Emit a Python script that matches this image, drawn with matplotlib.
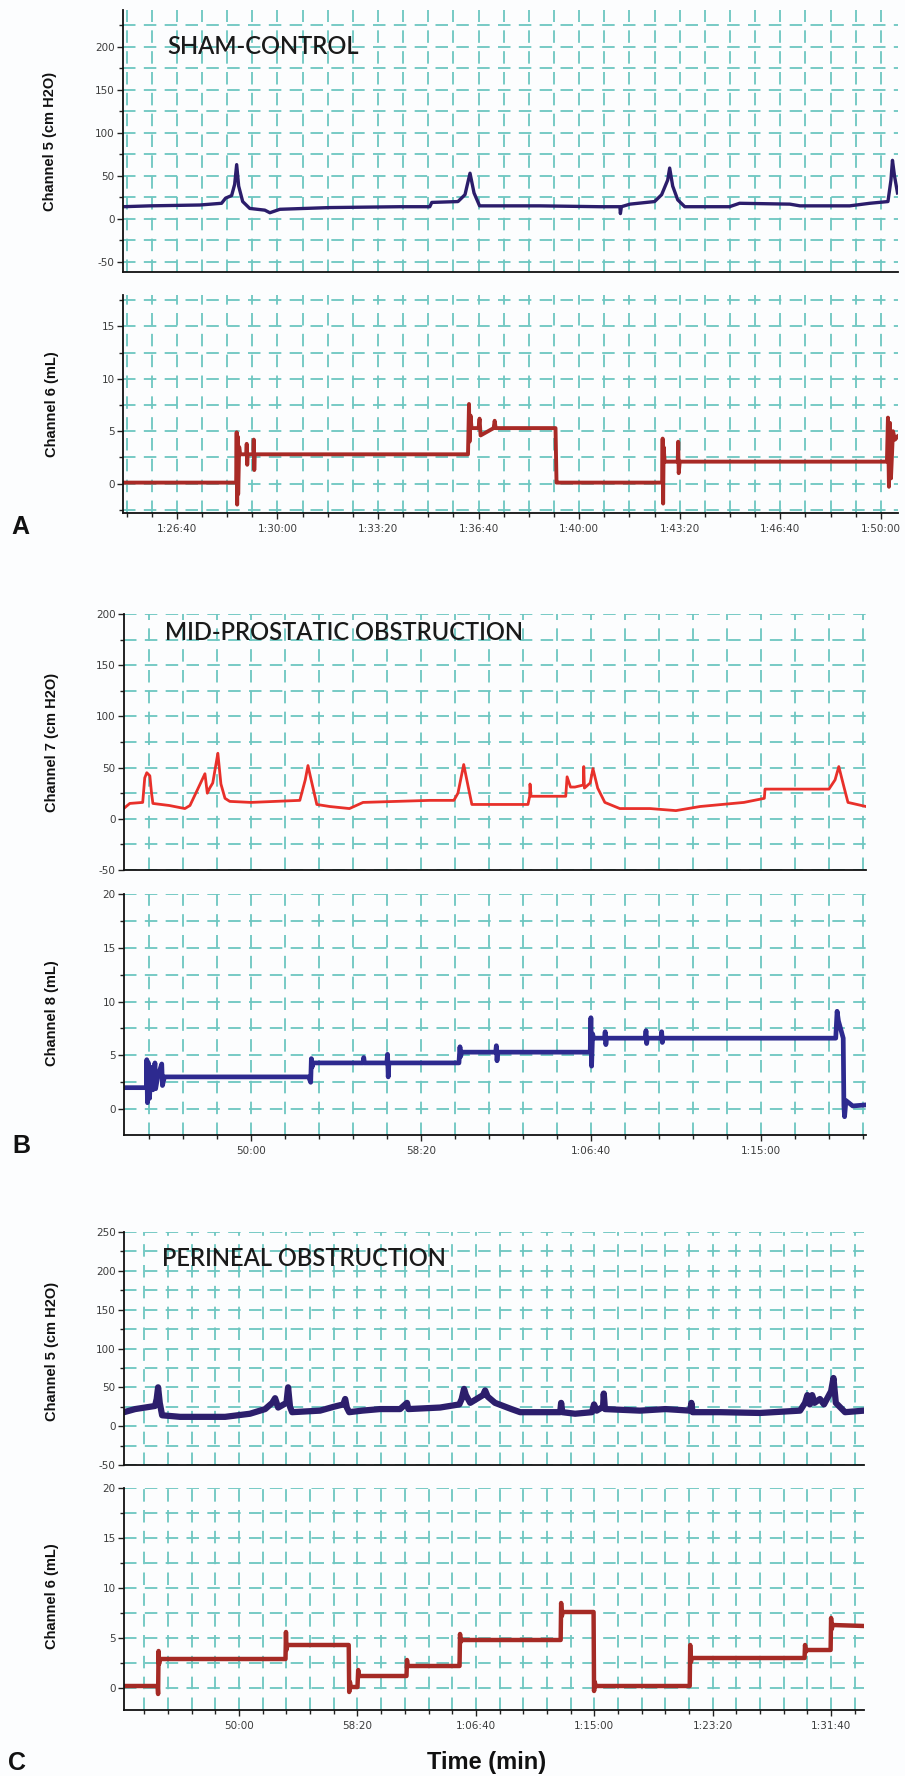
import matplotlib
matplotlib.use("Agg")
import matplotlib.pyplot as plt
from matplotlib.ticker import MultipleLocator, FixedLocator, NullFormatter

plt.rcParams['lines.scale_dashes'] = False

W, H = 905, 1776

# ---------------- DATA ----------------
# Panel A (SHAM-CONTROL)
A_top_t = [5093, 5146, 5246, 5289, 5297, 5309, 5315, 5319, 5323, 5331, 5345, 5375, 5385, 5405, 5504,
           5643, 5703, 5707, 5759, 5773, 5783, 5791, 5802, 5922, 6041, 6081, 6082, 6084, 6101, 6150,
           6164, 6176, 6180, 6186, 6196, 6210, 6299, 6319, 6419, 6439, 6538, 6578, 6614, 6620, 6623,
           6627, 6633]
A_top_v = [14, 15, 16, 18, 24, 27, 40, 63, 38, 20, 12, 10, 7, 11, 13,
           14, 14, 19, 20, 28, 53, 30, 15, 15, 14, 14, 6, 14, 17, 20,
           28, 45, 59, 38, 22, 14, 14, 18, 17, 15, 15, 18, 20, 45, 68,
           50, 30]
A_bot_t = [5093, 5318, 5319, 5320, 5321, 5322, 5324, 5326, 5338, 5339, 5340, 5341, 5352, 5353, 5354,
           5355, 5779, 5781, 5782, 5784, 5786, 5800, 5802, 5804, 5830, 5832, 5834, 5953, 5955, 5957,
           6165, 6166, 6167, 6168, 6170, 6196, 6197, 6198, 6200, 6612, 6614, 6616, 6618, 6620, 6624,
           6628, 6633]
A_bot_v = [0.1, 0.1, 4.9, -2.0, 4.5, -1.0, 3.5, 2.8, 2.8, 3.8, 1.8, 2.8, 2.8, 4.2, 1.3,
           2.8, 2.8, 7.6, 4.0, 6.5, 5.3, 5.3, 6.2, 4.6, 5.3, 6.0, 5.3, 5.3, 0.1, 0.1,
           0.1, 4.3, -1.9, 3.5, 2.1, 2.1, 4.0, 1.0, 2.1, 2.1, 6.3, -0.3, 5.8, 0.5, 5.0,
           4.2, 4.5]

# Panel B (MID-PROSTATIC OBSTRUCTION)
B_top_t = [2626, 2644, 2682, 2688, 2694, 2703, 2708, 2712, 2760, 2806, 2821, 2841, 2865, 2872, 2879,
           2888, 2903, 2912, 2924, 2938, 3000, 3144, 3160, 3168, 3176, 3194, 3232, 3290, 3330, 3526,
           3597, 3609, 3626, 3640, 3650, 3815, 3820, 3821, 3824, 3926, 3930, 3940, 3953, 3978, 3979,
           3981, 3998, 4006, 4020, 4041, 4085, 4174, 4250, 4321, 4450, 4510, 4512, 4700, 4718, 4729,
           4745, 4756, 4809]
B_top_v = [10, 15, 16, 40, 45, 42, 25, 15, 13, 10, 13, 27, 44, 25, 30,
           35, 64, 34, 20, 17, 16, 18, 38, 52, 40, 14, 12, 10, 16, 18,
           18, 25, 53, 30, 14, 14, 22, 34, 22, 22, 41, 31, 31, 33, 51,
           30, 35, 49, 30, 16, 10, 10, 8, 12, 16, 20, 29, 29, 38, 51,
           30, 16, 12]
B_bot_t = [2626, 2690, 2693, 2694, 2696, 2699, 2702, 2706, 2712, 2718, 2720, 2726, 2738, 2740, 2746,
           2760, 3170, 3176, 3178, 3180, 3183, 3330, 3332, 3334, 3400, 3402, 3404, 3406, 3612, 3615,
           3617, 3620, 3720, 3722, 3724, 3726, 3998, 4000, 4002, 4005, 4008, 4040, 4042, 4044, 4046,
           4160, 4162, 4164, 4166, 4206, 4208, 4210, 4212, 4720, 4724, 4728, 4742, 4744, 4746, 4750,
           4770, 4809]
B_bot_v = [2.0, 2.0, 2.0, 4.6, 0.6, 4.3, 1.0, 3.9, 1.8, 4.3, 1.9, 3.0, 4.2, 2.2, 3.0,
           3.0, 3.0, 2.5, 4.7, 3.9, 4.3, 4.3, 4.8, 4.3, 4.3, 5.1, 3.0, 4.3, 4.3, 5.8,
           4.9, 5.3, 5.3, 5.9, 4.5, 5.3, 5.3, 8.5, 4.0, 7.0, 6.6, 6.6, 7.2, 6.0, 6.6,
           6.6, 7.3, 6.1, 6.6, 6.6, 7.2, 6.2, 6.6, 6.6, 9.1, 8.2, 6.6, 0.3, -0.7, 0.8,
           0.3, 0.4]

# Panel C (PERINEAL OBSTRUCTION)
C_top_t = [2514, 2561, 2624, 2645, 2652, 2658, 2665, 2675, 2751, 2941, 3046, 3110, 3140, 3152, 3165,
           3200, 3207, 3215, 3224, 3342, 3400, 3440, 3448, 3455, 3465, 3520, 3595, 3680, 3709, 3715,
           3849, 3930, 3940, 3950, 3958, 3976, 4030, 4039, 4050, 4081, 4150, 4187, 4356, 4360, 4365,
           4419, 4490, 4499, 4510, 4537, 4540, 4545, 4693, 4800, 4905, 4910, 4915, 5031, 5200, 5369,
           5390, 5400, 5410, 5420, 5430, 5453, 5470, 5500, 5510, 5520, 5559, 5639]
C_top_v = [18, 22, 25, 26, 35, 50, 30, 14, 12, 12, 16, 22, 30, 36, 24,
           30, 50, 25, 18, 20, 25, 28, 35, 24, 18, 20, 22, 22, 30, 22,
           24, 28, 35, 48, 40, 30, 40, 46, 38, 30, 22, 18, 18, 30, 18,
           16, 18, 28, 20, 25, 42, 22, 20, 22, 20, 30, 18, 18, 17, 20,
           30, 40, 28, 40, 30, 35, 28, 45, 62, 30, 18, 20]
C_bot_t = [2514, 2656, 2658, 2660, 2662, 2666, 3196, 3198, 3200, 3204, 3463, 3465, 3468, 3472, 3500,
           3503, 3506, 3707, 3709, 3712, 3931, 3933, 3936, 3940, 4358, 4360, 4363, 4367, 4497, 4499,
           4502, 4506, 4903, 4905, 4908, 4912, 5388, 5390, 5393, 5397, 5498, 5500, 5503, 5507, 5639]
C_bot_v = [0.2, 0.2, -0.6, 3.7, 2.4, 2.9, 2.9, 5.6, 3.8, 4.3, 4.3, -0.4, 0.6, 0.1, 0.1,
           1.8, 1.2, 1.2, 2.8, 2.2, 2.2, 5.4, 4.6, 4.8, 4.8, 8.5, 7.2, 7.6, 7.6, -0.3,
           0.6, 0.2, 0.2, 4.3, 2.6, 3.0, 3.0, 4.3, 3.6, 3.8, 3.8, 7.0, 5.9, 6.3, 6.2]

A_xtick_labels = ["1:26:40", "1:30:00", "1:33:20", "1:36:40", "1:40:00", "1:43:20", "1:46:40", "1:50:00"]
B_xtick_labels = ["50:00", "58:20", "1:06:40", "1:15:00"]
C_xtick_labels = ["50:00", "58:20", "1:06:40", "1:15:00", "1:23:20", "1:31:40"]
P_ytick_labels = ["-50", "0", "50", "100", "150", "200"]
PC_ytick_labels = ["-50", "0", "50", "100", "150", "200", "250"]
V_ytick_labels = ["0", "5", "10", "15"]
V20_ytick_labels = ["0", "5", "10", "15", "20"]

titles = ["SHAM-CONTROL", "MID-PROSTATIC OBSTRUCTION", "PERINEAL OBSTRUCTION"]
ylabels = ["Channel 5 (cm H2O)", "Channel 6 (mL)", "Channel 7 (cm H2O)", "Channel 8 (mL)",
           "Channel 5 (cm H2O)", "Channel 6 (mL)"]
letters = ["A", "B", "C"]

# ---------------- STYLE ----------------
GRID = '#6dc6c0'
BG = '#fcfdfe'
TICKC = '#3c3c3c'


def to_sec(s):
    v = 0
    for p in s.split(':'):
        v = v * 60 + int(p)
    return v


def rect(l, t, r, b):
    return [l / W, 1 - b / H, (r - l) / W, (b - t) / H]


def fx(x):
    return x / W


def fy(y):
    return 1 - y / H


fig = plt.figure(figsize=(W / 100, H / 100), dpi=100, facecolor=BG)


def make_ax(r, xlim, ylim, xlabels, xminor, ylabels_, yminor, show_x):
    ax = fig.add_axes(rect(*r))
    ax.set_facecolor(BG)
    ax.set_xlim(*xlim)
    ax.set_ylim(*ylim)
    for s in ['top', 'right']:
        ax.spines[s].set_visible(False)
    for s in ['left', 'bottom']:
        ax.spines[s].set_linewidth(1.3)
        ax.spines[s].set_color('#111111')
    ax.xaxis.set_major_locator(FixedLocator([to_sec(s) for s in xlabels]))
    ax.xaxis.set_minor_locator(MultipleLocator(xminor))
    yv = [float(s) for s in ylabels_]
    ax.yaxis.set_major_locator(FixedLocator(yv))
    ax.yaxis.set_minor_locator(MultipleLocator(yminor))
    ax.set_yticklabels(ylabels_)
    if show_x:
        ax.set_xticklabels(xlabels)
        ax.tick_params(axis='x', which='major', length=4, width=1.0, color='#222222',
                       labelsize=7.5, labelcolor=TICKC, pad=4)
        ax.tick_params(axis='x', which='minor', length=3, width=1.0, color='#222222')
    else:
        ax.xaxis.set_major_formatter(NullFormatter())
        ax.tick_params(axis='x', which='both', length=0)
    ax.tick_params(axis='y', which='major', length=4, width=1.0, color='#222222',
                   labelsize=7.5, labelcolor=TICKC, pad=2)
    ax.tick_params(axis='y', which='minor', length=3, width=1.0, color='#222222')
    ax.grid(which='both', color=GRID, linestyle=(0, (9, 6)), linewidth=1.3)
    ax.set_axisbelow(True)
    return ax


# Panel A
axA1 = make_ax((123, 10, 898, 272), (5093, 6634), (-62, 243), A_xtick_labels, 50,
               P_ytick_labels, 25, False)
axA1.plot(A_top_t, A_top_v, color='#2b1d6b', lw=2.4)
axA2 = make_ax((123, 295, 898, 513), (5093, 6634), (-2.8, 18), A_xtick_labels, 50,
               V_ytick_labels, 2.5, True)
axA2.plot(A_bot_t, A_bot_v, color='#a82a26', lw=2.8)

# Panel B
axB1 = make_ax((124, 614, 866, 870), (2627, 4809), (-50, 200), B_xtick_labels, 100,
               P_ytick_labels, 25, False)
axB1.plot(B_top_t, B_top_v, color='#e8302a', lw=2.0)
axB2 = make_ax((124, 894, 866, 1135), (2627, 4809), (-2.4, 20), B_xtick_labels, 100,
               V20_ytick_labels, 2.5, True)
axB2.plot(B_bot_t, B_bot_v, color='#2d2a8f', lw=3.4)

# Panel C
axC1 = make_ax((124, 1232, 864, 1465), (2514, 5639), (-50, 250), C_xtick_labels, 100,
               PC_ytick_labels, 25, False)
axC1.plot(C_top_t, C_top_v, color='#2c1e6c', lw=4.5)
axC2 = make_ax((124, 1488, 864, 1710), (2514, 5639), (-2.2, 20), C_xtick_labels, 100,
               V20_ytick_labels, 2.5, True)
axC2.plot(C_bot_t, C_bot_v, color='#a52a25', lw=3.2)

# Titles
title_pos = [(167, 47), (165, 633), (162, 1258)]
for txt, (x, y) in zip(titles, title_pos):
    fig.text(fx(x), fy(y), txt, family='Lato', fontweight='semibold', fontsize=17,
             color='#1a1a1a', ha='left', va='center')

# Y labels
ylab_pos = [(50, 141), (52, 404), (52, 742), (52, 1013), (52, 1351), (52, 1596)]
for txt, (x, y) in zip(ylabels, ylab_pos):
    fig.text(fx(x), fy(y), txt, family='Liberation Sans', fontweight='bold', fontsize=10.5,
             rotation=90, ha='center', va='center', color='#111111')

# Panel letters
let_pos = [(20, 527), (21, 1146), (17, 1763)]
for txt, (x, y) in zip(letters, let_pos):
    fig.text(fx(x), fy(y), txt, family='Liberation Sans', fontweight='bold', fontsize=18,
             ha='center', va='center', color='#111111')

fig.text(fx(487), fy(1762), "Time (min)", family='Liberation Sans', fontweight='bold',
         fontsize=17, ha='center', va='center', color='#111111')

fig.savefig('out.png', dpi=100, facecolor=BG)
